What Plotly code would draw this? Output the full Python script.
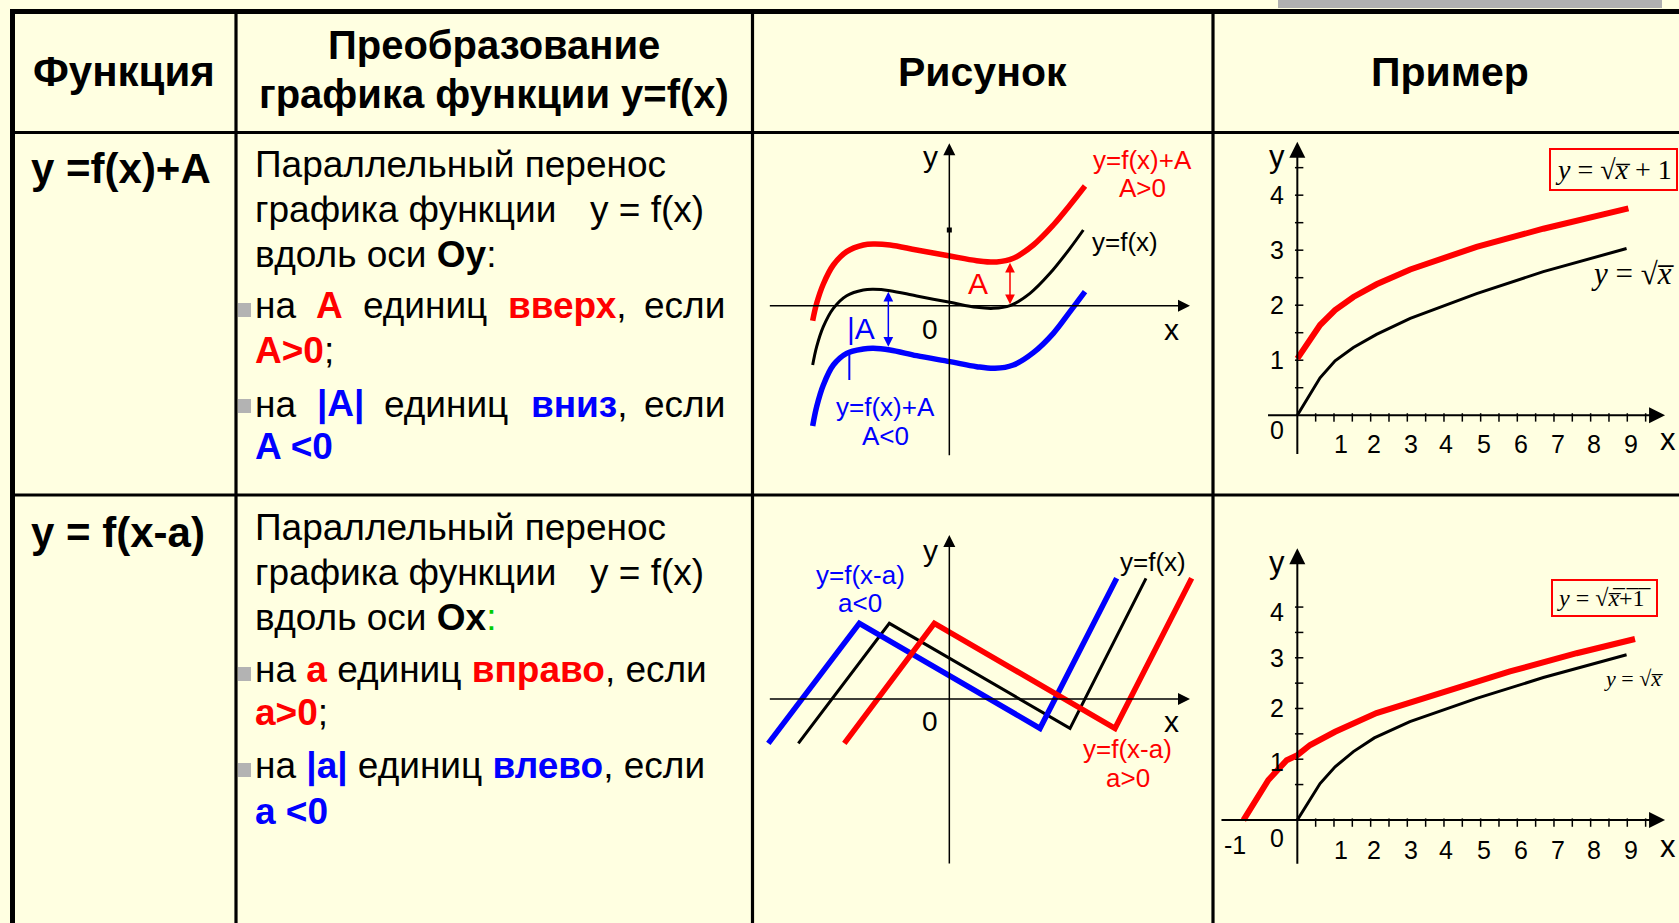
import plotly.graph_objects as go

W, H = 1679, 923
BG = '#FFFFE1'
RED = '#FF0000'
BLUE = '#0000FF'
GREEN = '#00CC00'
FONT = 'Liberation Sans, Arial, sans-serif'
SERIF = 'Liberation Serif, Times New Roman, serif'

# ---- sketch 1: y=f(x), y=f(x)+A (A>0), y=f(x)+A (A<0)
f_x = [-4.10, -3.98, -3.78, -3.48, -3.08, -2.58, -2.28, -1.78, -0.98, 0.02, 0.82, 1.32, 1.82, 2.42, 3.02, 3.62, 4.02]
f_y = [-1.78, -1.23, -0.63, -0.08, 0.30, 0.47, 0.49, 0.45, 0.29, 0.10, -0.05, -0.08, 0.00, 0.37, 0.97, 1.72, 2.27]
up_x = [-4.10, -3.98, -3.78, -3.48, -3.08, -2.58, -2.28, -1.78, -0.98, 0.02, 0.82, 1.42, 1.92, 2.52, 3.12, 3.62, 4.07]
up_y = [-0.45, 0.07, 0.65, 1.22, 1.62, 1.82, 1.85, 1.82, 1.67, 1.49, 1.35, 1.31, 1.42, 1.82, 2.42, 3.02, 3.59]
down_x = [-4.10, -3.98, -3.78, -3.48, -3.08, -2.58, -2.28, -1.78, -0.98, 0.02, 0.82, 1.37, 1.92, 2.52, 3.12, 3.62, 4.07]
down_y = [-3.61, -3.03, -2.38, -1.78, -1.43, -1.30, -1.28, -1.33, -1.50, -1.68, -1.83, -1.88, -1.78, -1.41, -0.83, -0.18, 0.42]

# ---- sketch 2: zigzag y=f(x), y=f(x-a)
zz_x = [-4.53, -1.80, 3.62, 5.90]
zz_y = [-1.33, 2.27, -0.88, 3.62]
zz_left_x = [-5.43, -2.70, 2.72, 5.02]
zz_right_x = [-3.15, -0.45, 4.97, 7.27]

# ---- example 1: y=sqrt(x), y=sqrt(x)+1
sq1_x = [0, 0.62, 1.03, 1.53, 2.16, 3.08, 4.89, 6.71, 8.98]
sq1_y = [0, 0.68, 0.99, 1.23, 1.47, 1.76, 2.21, 2.61, 3.03]
sq1p_x = [0, 0.62, 1.03, 1.53, 2.16, 3.08, 4.89, 6.71, 9.03]
sq1p_y = [1.03, 1.64, 1.91, 2.15, 2.38, 2.65, 3.06, 3.39, 3.76]

# ---- example 2: y=sqrt(x), y=sqrt(x+1)
sq2_x = [0, 0.62, 1.03, 1.53, 2.10, 3.07, 4.89, 6.71, 8.98]
sq2_y = [0, 0.72, 1.05, 1.35, 1.62, 1.94, 2.40, 2.81, 3.26]
sq2s_x = [-1.47, -0.79, -0.29, 0, 0.35, 1.03, 2.16, 3.98, 5.80, 7.62, 9.21]
sq2s_y = [0, 0.79, 1.18, 1.28, 1.48, 1.74, 2.11, 2.53, 2.93, 3.29, 3.57]

x_ticks = [0.5, 1, 1.5, 2, 2.5, 3, 3.5, 4, 4.5, 5, 5.5, 6, 6.5, 7, 7.5, 8, 8.5, 9, 9.5]
x_tick_labels = ['1', '2', '3', '4', '5', '6', '7', '8', '9']
x_label_pos = [1.2, 2.1, 3.1, 4.05, 5.1, 6.1, 7.1, 8.1, 9.1]
y1_ticks = [0.5, 1, 1.5, 2, 2.5, 3, 3.5, 4, 4.5]
y1_labels = ['1', '2', '3', '4']
y1_label_pos = [1, 2, 3, 4]
y2_ticks = [0.7, 1.2, 1.7, 2.2, 2.7, 3.2, 3.7, 4.2]
y2_labels = ['1', '2', '3', '4']
y2_label_pos = [1.15, 2.2, 3.2, 4.11]

fig = go.Figure()


def line(x, y, color, width, ax, shape='linear'):
    fig.add_trace(go.Scatter(x=x, y=y, mode='lines', line=dict(color=color, width=width, shape=shape),
                             xaxis=ax[0], yaxis=ax[1], hoverinfo='skip', showlegend=False))


def ticks(x, y, symbol, ax):
    fig.add_trace(go.Scatter(x=x, y=y, mode='markers', xaxis=ax[0], yaxis=ax[1], hoverinfo='skip',
                             marker=dict(symbol=symbol, size=6, line=dict(width=1.5, color='black')),
                             showlegend=False))


ann = []


def ptxt(x, y, s, size=37, color='black', xanchor='left'):
    ann.append(dict(x=x / W, y=1 - y / H, xref='paper', yref='paper', text=s, showarrow=False,
                    xanchor=xanchor, yanchor='middle', font=dict(family=FONT, size=size, color=color)))


def dtxt(ax, x, y, s, size=26, color='black', xanchor='center', family=FONT):
    ann.append(dict(x=x, y=y, xref=ax[0], yref=ax[1], text=s, showarrow=False,
                    xanchor=xanchor, yanchor='middle', font=dict(family=family, size=size, color=color)))


def arrow(ax, x0, y0, x1, y1, color='black', width=1.5, both=False, size=1.6):
    ann.append(dict(x=x1, y=y1, ax=x0, ay=y0, xref=ax[0], yref=ax[1], axref=ax[0], ayref=ax[1],
                    text='', showarrow=True, arrowhead=2, arrowsize=size, arrowwidth=width,
                    arrowcolor=color, arrowside='end+start' if both else 'end'))


A1, A2, A3, A4 = ('x', 'y'), ('x2', 'y2'), ('x3', 'y3'), ('x4', 'y4')

# sketch 1
arrow(A1, -5.43, 0, 7.22, 0)
arrow(A1, 0, -4.53, 0, 4.87)
line(f_x, f_y, 'black', 3, A1, 'spline')
line(up_x, up_y, RED, 5.5, A1, 'spline')
line(down_x, down_y, BLUE, 5.5, A1, 'spline')
line([-3.0, -3.0], [-1.38, -2.23], BLUE, 2, A1)
fig.add_trace(go.Scatter(x=[0], y=[2.27], mode='markers', marker=dict(symbol='square', size=5, color='black'),
                         xaxis='x', yaxis='y', hoverinfo='skip', showlegend=False))
arrow(A1, 1.82, 0.0, 1.82, 1.29, RED, 1.5, True, 1.3)
arrow(A1, -1.83, -1.28, -1.83, 0.42, BLUE, 1.5, True, 1.3)
dtxt(A1, -0.58, 4.47, 'y', 30)
dtxt(A1, 6.67, -0.73, 'x', 30)
dtxt(A1, -0.58, -0.73, '0', 28)
dtxt(A1, 5.8, 4.37, 'y=f(x)+A', 26, RED)
dtxt(A1, 5.8, 3.53, 'A&gt;0', 26, RED)
dtxt(A1, 4.22, 1.92, 'y=f(x)', 26, 'black', 'left')
dtxt(A1, 0.87, 0.67, 'A', 30, RED)
dtxt(A1, -2.65, -0.68, '|A', 30, BLUE)
dtxt(A1, -1.93, -3.05, 'y=f(x)+A', 26, BLUE)
dtxt(A1, -1.93, -3.91, 'A&lt;0', 26, BLUE)

# sketch 2
arrow(A3, -5.43, 0, 7.22, 0)
arrow(A3, 0, -4.98, 0, 4.92)
line(zz_x, zz_y, 'black', 3, A3)
line(zz_left_x, zz_y, BLUE, 5.5, A3)
line(zz_right_x, zz_y, RED, 5.5, A3)
dtxt(A3, -0.58, 4.47, 'y', 30)
dtxt(A3, -0.58, -0.68, '0', 28)
dtxt(A3, 6.67, -0.68, 'x', 30)
dtxt(A3, -2.68, 3.72, 'y=f(x-a)', 26, BLUE)
dtxt(A3, -2.68, 2.87, 'a&lt;0', 26, BLUE)
dtxt(A3, 6.1, 4.12, 'y=f(x)', 26)
dtxt(A3, 5.35, -1.50, 'y=f(x-a)', 26, RED)
dtxt(A3, 5.35, -2.36, 'a&gt;0', 26, RED)

# example 1
arrow(A2, -0.84, 0, 10.03, 0, width=2)
arrow(A2, 0, -0.73, 0, 4.97, width=2)
ticks(x_ticks, [-0.04] * len(x_ticks), 'line-ns', A2)
ticks([0.05] * len(y1_ticks), y1_ticks, 'line-ew', A2)
line(sq1_x, sq1_y, 'black', 3, A2)
line(sq1p_x, sq1p_y, RED, 6, A2)
for lab, xp in zip(x_tick_labels, x_label_pos):
    dtxt(A2, xp, -0.52, lab, 25)
for lab, yp in zip(y1_labels, y1_label_pos):
    dtxt(A2, -0.56, yp, lab, 25)
dtxt(A2, -0.56, -0.27, '0', 25)
dtxt(A2, -0.56, 4.7, 'y', 31)
dtxt(A2, 10.12, -0.45, 'x', 31)
ann.append(dict(x=8.63, y=4.47, xref='x2', yref='y2', showarrow=False,
                text='<i>y</i> = √<i>x̅</i> + 1', font=dict(family=SERIF, size=28, color='black'),
                bordercolor=RED, borderwidth=2, borderpad=4))
dtxt(A2, 7.95, 2.58, '<i>y</i> = √<i>x̅</i>', 31, 'black', 'left', SERIF)

# example 2
arrow(A4, -2.11, 0, 10.03, 0, width=2)
arrow(A4, 0, -0.89, 0, 5.36, width=2)
ticks(x_ticks, [-0.05] * len(x_ticks), 'line-ns', A4)
ticks([0.05] * len(y2_ticks), y2_ticks, 'line-ew', A4)
line(sq2_x, sq2_y, 'black', 3, A4)
line(sq2s_x, sq2s_y, RED, 6, A4)
for lab, xp in zip(x_tick_labels, x_label_pos):
    dtxt(A4, xp, -0.59, lab, 25)
for lab, yp in zip(y2_labels, y2_label_pos):
    dtxt(A4, -0.56, yp, lab, 25)
dtxt(A4, -0.56, -0.36, '0', 25)
dtxt(A4, -1.7, -0.49, '-1', 25)
dtxt(A4, -0.56, 5.07, 'y', 31)
dtxt(A4, 10.12, -0.53, 'x', 31)
ann.append(dict(x=8.39, y=4.375, xref='x4', yref='y4', showarrow=False,
                text='<i>y</i> = √<i>x̅</i>̅+̅1̅', font=dict(family=SERIF, size=24, color='black'),
                bordercolor=RED, borderwidth=2, borderpad=4))
dtxt(A4, 9.16, 2.8, '<i>y</i> = √<i>x̅</i>', 22, 'black', 'center', SERIF)

# ---- table text
ptxt(124, 72, '<b>Функция</b>', 42, xanchor='center')
ptxt(494, 45, '<b>Преобразование</b>', 40, xanchor='center')
ptxt(494, 94, '<b>графика функции y=f(x)</b>', 40, xanchor='center')
ptxt(982, 72, '<b>Рисунок</b>', 41, xanchor='center')
ptxt(1450, 72, '<b>Пример</b>', 41, xanchor='center')

ptxt(29, 169, '<b>y =f(x)+A</b>', 42)
ptxt(29, 532, '<b>y = f(x-a)</b>', 42)

r = '<b><span style="color:%s">%s</span></b>'
for y0, axis, colon in ((165, 'Oy', ':'), (527, 'Ox', '<span style="color:%s">:</span>' % GREEN)):
    ptxt(253, y0, 'Параллельный перенос')
    ptxt(253, y0 + 45, 'графика функции')
    ptxt(588, y0 + 45, 'y = f(x)')
    ptxt(253, y0 + 90, 'вдоль оси <b>%s</b>%s' % (axis, colon))

# row 1 bullets (justified)
for xw, s in ((253, 'на'), (314, r % (RED, 'A')), (361, 'единиц'), (506, r % (RED, 'вверх') + ','),
              (642, 'если')):
    ptxt(xw, 306, s)
ptxt(253, 350, r % (RED, 'A&gt;0') + ';')
for xw, s in ((253, 'на'), (315, r % (BLUE, '|A|')), (382, 'единиц'), (529, r % (BLUE, 'вниз') + ','),
              (642, 'если')):
    ptxt(xw, 404, s)
ptxt(253, 447, r % (BLUE, 'A &lt;0'))

# row 2 bullets
ptxt(253, 669, 'на ' + r % (RED, 'a') + ' единиц ' + r % (RED, 'вправо') + ', если')
ptxt(253, 712, r % (RED, 'a&gt;0') + ';')
ptxt(253, 766, 'на ' + r % (BLUE, '|a|') + ' единиц ' + r % (BLUE, 'влево') + ', если')
ptxt(253, 811, r % (BLUE, 'a &lt;0'))

# ---- table grid
shapes = []


def rect(x0, y0, x1, y1, color):
    shapes.append(dict(type='rect', xref='paper', yref='paper', x0=x0 / W, x1=x1 / W,
                       y0=1 - y0 / H, y1=1 - y1 / H, fillcolor=color, line=dict(width=0), layer='above'))


rect(1278, 0, 1662, 8, '#B0B0B0')
rect(10, 9, W, 14, 'black')
rect(10, 9, 15, H, 'black')
for cx in (236, 752.5, 1213):
    rect(cx - 1.6, 14, cx + 1.6, H, 'black')
for ry in (132.5, 495):
    rect(15, ry - 1.6, W, ry + 1.6, 'black')
for by in (303, 399, 667, 763):
    rect(238, by, 251, by + 14, '#B3B3B3')


def ax_dom(x0, x1, y0, y1):
    return [x0 / W, x1 / W], [1 - y1 / H, 1 - y0 / H]


hidden = dict(visible=False, showgrid=False, zeroline=False, fixedrange=True)
d1x, d1y = ax_dom(753, 1213, 133, 495)
d2x, d2y = ax_dom(1213, W, 133, 495)
d3x, d3y = ax_dom(753, 1213, 495, H)
d4x, d4y = ax_dom(1213, W, 495, H)

fig.update_layout(
    width=W, height=H,
    margin=dict(l=0, r=0, t=0, b=0),
    paper_bgcolor=BG, plot_bgcolor=BG,
    showlegend=False,
    xaxis=dict(domain=d1x, range=[-5.89, 7.91], anchor='y', **hidden),
    yaxis=dict(domain=d1y, range=[-5.68, 5.18], anchor='x', **hidden),
    xaxis2=dict(domain=d2x, range=[-2.30, 10.41], anchor='y2', **hidden),
    yaxis2=dict(domain=d2y, range=[-1.45, 5.13], anchor='x2', **hidden),
    xaxis3=dict(domain=d3x, range=[-5.89, 7.91], anchor='y3', **hidden),
    yaxis3=dict(domain=d3y, range=[-6.72, 6.12], anchor='x3', **hidden),
    xaxis4=dict(domain=d4x, range=[-2.30, 10.41], anchor='y4', **hidden),
    yaxis4=dict(domain=d4y, range=[-2.03, 6.41], anchor='x4', **hidden),
    annotations=ann,
    shapes=shapes,
)

fig.write_html("out.html", config={'displayModeBar': False},
               post_script="document.body.style.margin='0';document.body.style.overflow='hidden';")
